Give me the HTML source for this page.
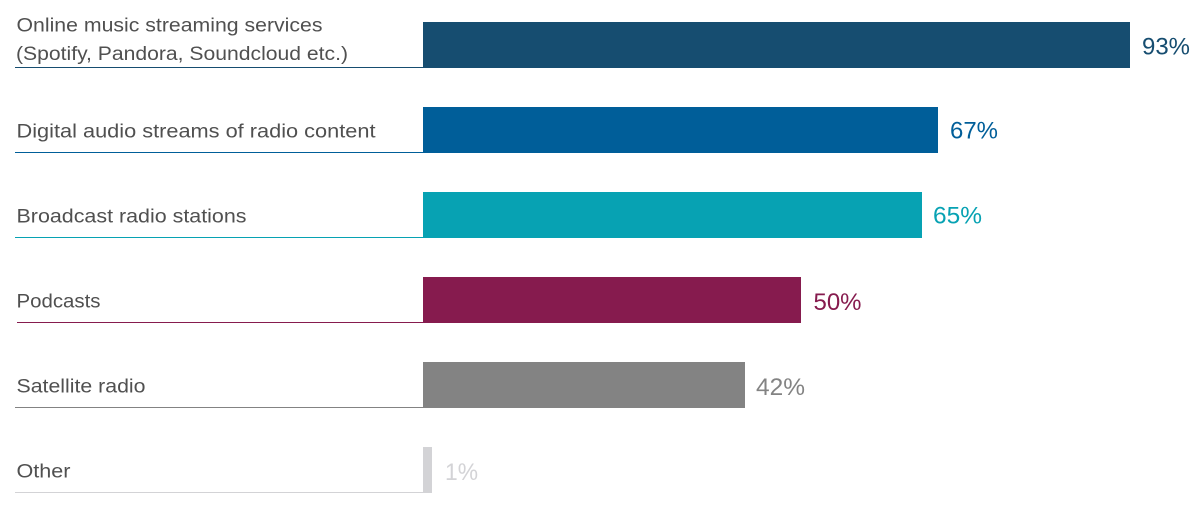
<!DOCTYPE html>
<html><head><meta charset="utf-8"><style>
html,body{margin:0;padding:0;background:#fff;}
svg{display:block;}
text{font-family:"Liberation Sans",sans-serif;}
.l{font-size:19px;fill:#505050;}
.v{font-size:24.5px;}
</style></head><body>
<svg width="1200" height="507" viewBox="0 0 1200 507">
<!-- row 1 -->
<rect x="423" y="22" width="707" height="46" fill="#164D70"/>
<line x1="15" y1="67.5" x2="423" y2="67.5" stroke="#164D70" stroke-width="1"/>
<text class="l" x="16.5" y="31.7" textLength="306" lengthAdjust="spacingAndGlyphs">Online music streaming services</text>
<text class="l" x="16" y="60" textLength="332" lengthAdjust="spacingAndGlyphs">(Spotify, Pandora, Soundcloud etc.)</text>
<text class="v" x="1142" y="54.3" fill="#164D70" textLength="48" lengthAdjust="spacingAndGlyphs">93%</text>
<!-- row 2 -->
<rect x="423" y="107" width="515" height="46" fill="#005E99"/>
<line x1="15" y1="152.5" x2="423" y2="152.5" stroke="#005E99" stroke-width="1"/>
<text class="l" x="16.5" y="137.7" textLength="359" lengthAdjust="spacingAndGlyphs">Digital audio streams of radio content</text>
<text class="v" x="950" y="138.3" fill="#005E99" textLength="48" lengthAdjust="spacingAndGlyphs">67%</text>
<!-- row 3 -->
<rect x="423" y="192" width="499" height="46" fill="#07A2B3"/>
<line x1="15" y1="237.5" x2="423" y2="237.5" stroke="#07A2B3" stroke-width="1"/>
<text class="l" x="16.5" y="222.3" textLength="230" lengthAdjust="spacingAndGlyphs">Broadcast radio stations</text>
<text class="v" x="933" y="223.3" fill="#07A2B3" textLength="49" lengthAdjust="spacingAndGlyphs">65%</text>
<!-- row 4 -->
<rect x="423" y="277" width="378" height="46" fill="#861B4E"/>
<line x1="17" y1="322.5" x2="423" y2="322.5" stroke="#861B4E" stroke-width="1"/>
<text class="l" x="16.5" y="307.3" textLength="84" lengthAdjust="spacingAndGlyphs">Podcasts</text>
<text class="v" x="813.5" y="310" fill="#861B4E" textLength="48" lengthAdjust="spacingAndGlyphs">50%</text>
<!-- row 5 -->
<rect x="423" y="362" width="322" height="46" fill="#838383"/>
<line x1="15" y1="407.5" x2="423" y2="407.5" stroke="#838383" stroke-width="1"/>
<text class="l" x="16.5" y="392.3" textLength="129" lengthAdjust="spacingAndGlyphs">Satellite radio</text>
<text class="v" x="756" y="395" fill="#838383" textLength="49" lengthAdjust="spacingAndGlyphs">42%</text>
<!-- row 6 -->
<rect x="423" y="447" width="9" height="46" fill="#D3D3D6"/>
<line x1="15" y1="492.5" x2="423" y2="492.5" stroke="#D3D3D6" stroke-width="1"/>
<text class="l" x="16.5" y="477.3" textLength="54" lengthAdjust="spacingAndGlyphs">Other</text>
<text class="v" x="445" y="480" fill="#D3D3D6" textLength="33" lengthAdjust="spacingAndGlyphs">1%</text>
</svg>
</body></html>
